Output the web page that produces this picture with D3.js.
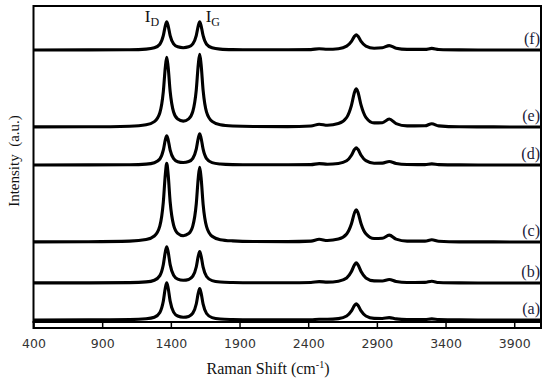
<!DOCTYPE html>
<html>
<head>
<meta charset="utf-8">
<script src="https://cdn.jsdelivr.net/npm/d3@7"></script>
<style>
  html, body { margin: 0; padding: 0; background: #fff; }
</style>
</head>
<body>
<div id="chart"></div>
<script>
// Raman shift sample points (cm-1), shared by all spectra
const ramanShift = [400, 800, 1100, 1220, 1280, 1320, 1345, 1360, 1370, 1380,
  1395, 1420, 1450, 1490, 1530, 1560, 1585, 1600, 1610, 1620,
  1635, 1660, 1700, 1760, 1850, 2000, 2250, 2420, 2480, 2540,
  2620, 2680, 2715, 2738, 2750, 2762, 2785, 2820, 2880, 2940,
  2990, 3040, 3120, 3250, 3300, 3350, 3500, 3750, 4000, 4090];

// intensity above each spectrum's own baseline (a.u.)
const specA = [0, 0.1, 0.4, 1.2, 2.8, 7.6, 18.8, 32.2, 37.3, 32.3,
  18.9, 7.9, 4.0, 2.8, 3.6, 6.8, 16.0, 27.1, 31.4, 27.1,
  15.8, 6.5, 2.4, 1.0, 0.5, 0.2, 0.2, 0.3, 0.8, 0.7,
  1.4, 4.0, 9.1, 14.7, 16.1, 14.7, 9.1, 4.0, 1.6, 1.5,
  2.4, 1.1, 0.4, 0.4, 1.1, 0.4, 0.1, 0, 0, 0];
const specB = [0.1, 0.1, 0.4, 1.1, 2.8, 7.4, 18.3, 31.3, 36.3, 31.4,
  18.4, 7.7, 3.9, 2.8, 3.6, 6.8, 16.0, 27.1, 31.4, 27.1,
  15.8, 6.5, 2.4, 1.0, 0.5, 0.2, 0.2, 0.5, 1.4, 0.9,
  1.8, 5.0, 11.4, 18.4, 20.1, 18.4, 11.4, 5.1, 2.1, 2.0,
  3.5, 1.5, 0.5, 0.6, 1.7, 0.5, 0.1, 0, 0, 0];
const specC = [0.1, 0.3, 0.9, 2.5, 6.0, 16.2, 39.7, 67.9, 78.8, 68.1,
  40.0, 16.9, 8.7, 6.3, 8.4, 16.1, 38.0, 64.7, 74.8, 64.6,
  37.7, 15.4, 5.7, 2.3, 1.1, 0.5, 0.4, 0.9, 2.7, 1.5,
  2.9, 8.0, 18.2, 29.5, 32.2, 29.5, 18.3, 8.2, 3.5, 3.7,
  6.9, 2.9, 0.9, 0.9, 2.3, 0.7, 0.1, 0.1, 0, 0];
const specD = [0, 0.1, 0.3, 0.9, 2.3, 6.0, 14.8, 25.3, 29.3, 25.4,
  14.9, 6.3, 3.3, 2.5, 3.5, 6.7, 15.9, 27.0, 31.3, 27.0,
  15.8, 6.4, 2.4, 1.0, 0.4, 0.2, 0.2, 0.4, 1.4, 0.8,
  1.5, 4.2, 9.7, 15.7, 17.1, 15.7, 9.7, 4.3, 1.8, 1.9,
  3.5, 1.5, 0.5, 0.4, 1.1, 0.4, 0.1, 0, 0, 0];
const specE = [0.1, 0.2, 0.8, 2.2, 5.4, 14.3, 35.1, 60.2, 69.8, 60.3,
  35.5, 15.0, 7.9, 5.9, 8.1, 15.6, 36.9, 62.9, 72.7, 62.8,
  36.6, 14.9, 5.6, 2.2, 1.0, 0.5, 0.4, 1.0, 2.8, 1.7,
  3.4, 9.5, 21.7, 35.0, 38.2, 35.0, 21.8, 9.7, 4.1, 4.3,
  8.0, 3.4, 1.1, 1.2, 3.3, 1.1, 0.2, 0.1, 0, 0];
const specF = [0, 0.1, 0.3, 0.9, 2.2, 5.8, 14.3, 24.4, 28.3, 24.4,
  14.4, 6.1, 3.2, 2.3, 3.2, 6.1, 14.4, 24.4, 28.3, 24.4,
  14.3, 5.8, 2.2, 0.9, 0.4, 0.2, 0.2, 0.4, 1.3, 0.7,
  1.3, 3.8, 8.6, 13.9, 15.1, 13.9, 8.6, 3.9, 1.8, 2.2,
  4.4, 1.8, 0.6, 0.6, 1.6, 0.5, 0.1, 0, 0, 0];

// vertical stacking offset of each spectrum (a.u.)
const baselines = [2, 39, 80, 157, 195, 272];
const spectra = [specA, specB, specC, specD, specE, specF];
const sampleLabels = ["(a)", "(b)", "(c)", "(d)", "(e)", "(f)"];

const xTicks = [400, 900, 1400, 1900, 2400, 2900, 3400, 3900];
const xDomain = [400, 4095];
const yDomain = [0, 316];

// layout
const width = 550, height = 384;
const plot = { left: 33.5, right: 541, top: 6, bottom: 322 };

const svg = d3.select("#chart")
  .append("svg")
  .attr("width", width)
  .attr("height", height);

const x = d3.scaleLinear().domain(xDomain).range([plot.left, plot.right]);
const y = d3.scaleLinear().domain(yDomain).range([plot.bottom, plot.top]);

svg.append("defs").append("clipPath")
  .attr("id", "clip")
  .append("rect")
  .attr("x", plot.left)
  .attr("y", plot.top)
  .attr("width", plot.right - plot.left)
  .attr("height", plot.bottom - plot.top);

// spectra
const line = d3.line()
  .x(d => x(d[0]))
  .y(d => y(d[1]))
  .curve(d3.curveMonotoneX);

svg.append("g")
  .attr("clip-path", "url(#clip)")
  .selectAll("path")
  .data(spectra)
  .enter()
  .append("path")
  .attr("d", (s, i) => line(s.map((v, j) => [ramanShift[j], v + baselines[i]])))
  .attr("fill", "none")
  .attr("stroke", "#000")
  .attr("stroke-width", 3.1)
  .attr("stroke-linejoin", "round");

// sample labels at the right end
svg.append("g")
  .selectAll("text")
  .data(sampleLabels)
  .enter()
  .append("text")
  .attr("x", plot.right - 1)
  .attr("y", (d, i) => y(baselines[i]) - 6)
  .attr("text-anchor", "end")
  .attr("font-family", "Liberation Serif, serif")
  .attr("font-size", 16)
  .attr("fill", "#1c1c3a")
  .text(d => d);

// frame
svg.append("rect")
  .attr("x", plot.left)
  .attr("y", plot.top)
  .attr("width", plot.right - plot.left)
  .attr("height", plot.bottom - plot.top)
  .attr("fill", "none")
  .attr("stroke", "#000")
  .attr("stroke-width", 2);

// x axis band with ticks
const axisBand = 6;
svg.append("rect")
  .attr("x", plot.left)
  .attr("y", plot.bottom)
  .attr("width", plot.right - plot.left)
  .attr("height", axisBand)
  .attr("fill", "none")
  .attr("stroke", "#000")
  .attr("stroke-width", 2);

const xAxis = d3.axisBottom(x)
  .tickValues(xTicks)
  .tickSize(axisBand)
  .tickSizeOuter(0)
  .tickPadding(11)
  .tickFormat(d3.format("d"));

const gx = svg.append("g")
  .attr("transform", `translate(0,${plot.bottom})`)
  .call(xAxis);
gx.select(".domain").remove();
gx.selectAll(".tick line").attr("stroke", "#000").attr("stroke-width", 1.5);
gx.selectAll(".tick text")
  .attr("font-family", "DejaVu Sans, sans-serif")
  .attr("font-size", 12.5)
  .attr("fill", "#333");

// axis titles
const xTitle = svg.append("text")
  .attr("x", 268)
  .attr("y", 374)
  .attr("text-anchor", "middle")
  .attr("font-family", "Liberation Serif, serif")
  .attr("font-size", 16)
  .attr("fill", "#111");
xTitle.append("tspan").text("Raman Shift  (cm");
xTitle.append("tspan").attr("dy", -6).attr("font-size", 10).text("-1");
xTitle.append("tspan").attr("dy", 6).text(")");

svg.append("text")
  .attr("transform", "translate(19,161) rotate(-90)")
  .attr("text-anchor", "middle")
  .attr("font-family", "Liberation Serif, serif")
  .attr("font-size", 15)
  .attr("fill", "#111")
  .style("white-space", "pre")
  .text("Intensity  (a.u.)");

// band annotations
const bands = [["I", "D", 1370], ["I", "G", 1610]];
bands.forEach(([main, sub, pos], i) => {
  const t = svg.append("text")
    .attr("x", x(pos) + (i === 0 ? -22 : 6))
    .attr("y", 22)
    .attr("font-family", "Liberation Serif, serif")
    .attr("font-size", 17)
    .attr("fill", "#111");
  t.append("tspan").text(main);
  t.append("tspan").attr("dy", 4).attr("font-size", 12).text(sub);
});
</script>
</body>
</html>
